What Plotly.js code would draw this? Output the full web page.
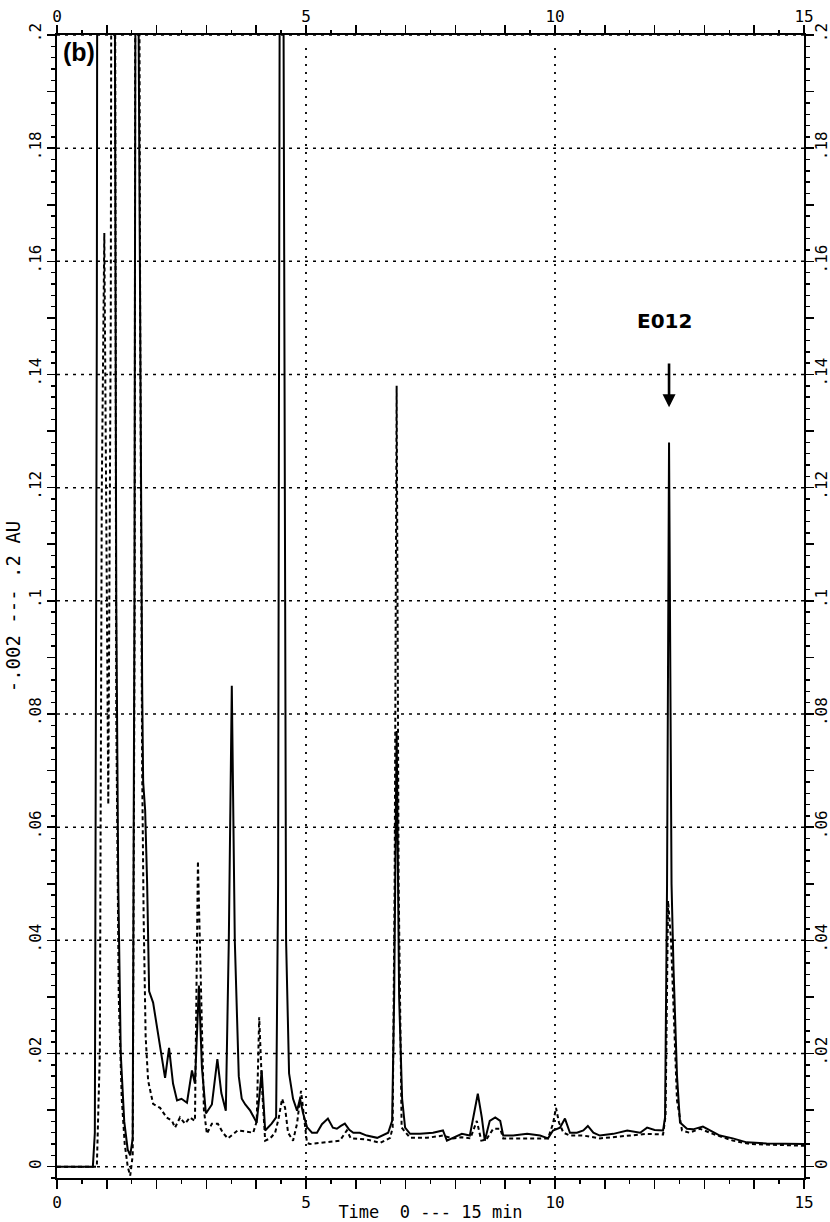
<!DOCTYPE html>
<html>
<head>
<meta charset="utf-8">
<script src="https://cdn.plot.ly/plotly-3.0.1.min.js"></script>
<style>html,body{margin:0;padding:0;background:#fff;}#chart{width:830px;height:1222px;}</style>
</head>
<body>
<div id="chart"></div>
<script>
// ---- data (time in min, absorbance in AU) ----
const solidTime = [0, 0.72, 0.76, 0.8, 0.83, 0.95, 1.1, 1.15, 1.19, 1.23, 1.28, 1.35, 1.42, 1.47, 1.52, 1.555, 1.58, 1.61, 1.64, 1.68, 1.71, 1.73, 1.77, 1.81, 1.85, 1.93, 2.03, 2.17, 2.25, 2.33, 2.41, 2.5, 2.61, 2.71, 2.77, 2.85, 2.91, 2.99, 3.11, 3.22, 3.3, 3.39, 3.45, 3.51, 3.57, 3.65, 3.71, 3.78, 3.88, 4.01, 4.07, 4.11, 4.18, 4.31, 4.4, 4.44, 4.47, 4.51, 4.55, 4.6, 4.66, 4.74, 4.82, 4.88, 4.94, 5.02, 5.12, 5.22, 5.32, 5.44, 5.54, 5.62, 5.7, 5.78, 5.87, 5.95, 6.08, 6.22, 6.43, 6.65, 6.73, 6.77, 6.82, 6.87, 6.93, 6.99, 7.09, 7.29, 7.55, 7.75, 7.83, 7.95, 8.13, 8.29, 8.39, 8.45, 8.53, 8.59, 8.69, 8.8, 8.9, 8.96, 9.16, 9.44, 9.7, 9.86, 9.96, 10.1, 10.2, 10.3, 10.44, 10.57, 10.66, 10.77, 10.9, 11.17, 11.45, 11.71, 11.85, 12.0, 12.17, 12.21, 12.25, 12.29, 12.34, 12.38, 12.45, 12.51, 12.65, 12.77, 12.97, 13.11, 13.31, 13.57, 13.85, 14.25, 15];
const solidAU = [0, 0, 0.006, 0.15, 0.4, 0.45, 0.45, 0.25, 0.1, 0.05, 0.02, 0.008, 0.003, 0.002, 0.005, 0.1, 0.4, 0.4, 0.2, 0.12, 0.085, 0.068, 0.063, 0.05, 0.031, 0.029, 0.0235, 0.0157, 0.021, 0.0147, 0.0117, 0.012, 0.0113, 0.017, 0.0147, 0.032, 0.0175, 0.0094, 0.011, 0.019, 0.013, 0.0099, 0.04, 0.085, 0.04, 0.016, 0.012, 0.011, 0.0099, 0.0078, 0.013, 0.017, 0.0064, 0.0076, 0.0087, 0.05, 0.2, 0.5, 0.2, 0.04, 0.0165, 0.012, 0.0099, 0.012, 0.0095, 0.007, 0.006, 0.006, 0.0075, 0.0085, 0.0069, 0.0067, 0.0072, 0.0076, 0.0065, 0.006, 0.006, 0.0055, 0.0051, 0.006, 0.0081, 0.03, 0.077, 0.03, 0.012, 0.0069, 0.0058, 0.0058, 0.006, 0.0064, 0.0046, 0.0051, 0.0058, 0.0055, 0.0103, 0.0129, 0.0087, 0.0046, 0.0081, 0.0087, 0.0081, 0.0055, 0.0055, 0.0058, 0.0055, 0.005, 0.0064, 0.0069, 0.0085, 0.006, 0.006, 0.0064, 0.0072, 0.006, 0.0055, 0.0058, 0.0064, 0.006, 0.0069, 0.0065, 0.0064, 0.0087, 0.05, 0.128, 0.05, 0.035, 0.016, 0.0078, 0.0067, 0.0066, 0.0071, 0.0064, 0.0055, 0.005, 0.0043, 0.0041, 0.004];

const dashedTime = [0, 0.8, 0.86, 0.9, 0.95, 0.99, 1.03, 1.08, 1.12, 1.16, 1.19, 1.24, 1.3, 1.36, 1.42, 1.47, 1.52, 1.56, 1.59, 1.63, 1.67, 1.71, 1.74, 1.78, 1.83, 1.93, 2.07, 2.2, 2.31, 2.37, 2.47, 2.57, 2.67, 2.77, 2.83, 2.9, 2.95, 3.01, 3.11, 3.23, 3.33, 3.43, 3.63, 3.8, 3.94, 4.01, 4.06, 4.12, 4.18, 4.28, 4.38, 4.45, 4.52, 4.58, 4.64, 4.74, 4.82, 4.9, 4.96, 5.02, 5.08, 5.28, 5.68, 5.82, 5.9, 6.22, 6.49, 6.69, 6.74, 6.78, 6.82, 6.86, 6.92, 7.09, 7.43, 7.75, 7.95, 8.13, 8.3, 8.43, 8.52, 8.62, 8.76, 8.9, 8.96, 9.3, 9.56, 9.86, 9.96, 10.02, 10.08, 10.17, 10.3, 10.57, 10.9, 11.45, 11.85, 12.17, 12.22, 12.27, 12.33, 12.45, 12.55, 12.7, 12.91, 13.17, 13.57, 13.92, 15];
const dashedAU = [0, 0, 0.02, 0.12, 0.165, 0.12, 0.064, 0.15, 0.4, 0.25, 0.08, 0.03, 0.012, 0.004, 0.0, -0.0016, 0.002, 0.1, 0.4, 0.3, 0.15, 0.07, 0.044, 0.023, 0.0152, 0.0111, 0.0104, 0.0087, 0.0081, 0.0069, 0.0087, 0.0076, 0.0087, 0.0081, 0.054, 0.026, 0.01, 0.0058, 0.0076, 0.0076, 0.006, 0.005, 0.0064, 0.0062, 0.006, 0.008, 0.0264, 0.0134, 0.0046, 0.005, 0.006, 0.0085, 0.012, 0.0104, 0.006, 0.0046, 0.0076, 0.0134, 0.0085, 0.0042, 0.004, 0.0042, 0.0046, 0.0064, 0.005, 0.0048, 0.0042, 0.0051, 0.0069, 0.05, 0.138, 0.05, 0.0069, 0.0051, 0.0051, 0.0055, 0.005, 0.0052, 0.005, 0.0081, 0.0046, 0.0048, 0.0067, 0.0067, 0.005, 0.005, 0.005, 0.005, 0.0076, 0.0104, 0.0078, 0.006, 0.0055, 0.0055, 0.005, 0.0055, 0.0058, 0.0057, 0.009, 0.047, 0.04, 0.0117, 0.0064, 0.006, 0.0067, 0.0058, 0.0046, 0.004, 0.0037];

const xTickValues = [0, 5, 10, 15];
const xTickLabels = ['0', '5', '10', '15'];
const yTickValues = [0, 0.02, 0.04, 0.06, 0.08, 0.1, 0.12, 0.14, 0.16, 0.18, 0.2];
const yTickLabels = ['0', '.02', '.04', '.06', '.08', '.1', '.12', '.14', '.16', '.18', '.2'];
const xGridValues = [5, 10];

const yTitle = '-.002 --- .2 AU';
const xTitle = 'Time\u00a0\u00a00 --- 15 min';
const panelLabel = '(b)';
const peakLabel = 'E012';

// ---- build tick arrays (every minute / every 0.01 AU, labels only where given) ----
const FONT = 'DejaVu Sans Mono';
const xMajorVals = [], xMajorText = [];
for (let i = 0; i <= 15; i++) {
  xMajorVals.push(i);
  const k = xTickValues.indexOf(i);
  xMajorText.push(k >= 0 ? xTickLabels[k] : '');
}
const yMajorVals = [], yMajorText = [];
for (let k = 0; k <= 20; k++) {
  const v = k / 100;
  yMajorVals.push(v);
  const j = yTickValues.findIndex(t => Math.abs(t - v) < 1e-9);
  yMajorText.push(j >= 0 ? yTickLabels[j] : '');
}

const baseX = {
  range: [0, 15], tickmode: 'array', tickvals: xMajorVals, ticktext: xMajorText,
  ticks: 'outside', ticklen: 9, tickwidth: 1.6, tickcolor: '#000',
  minor: {dtick: 0.5, tick0: 0, ticks: 'outside', ticklen: 4, tickwidth: 1.4, tickcolor: '#000', showgrid: false},
  showline: true, linecolor: '#000', linewidth: 2, showgrid: false, zeroline: false,
  tickfont: {family: FONT, size: 16, color: '#000'}, automargin: false, fixedrange: true
};
const baseY = {
  range: [-0.002, 0.2], tickmode: 'array', tickvals: yMajorVals, ticktext: yMajorText,
  ticks: 'outside', ticklen: 8, tickwidth: 1.6, tickcolor: '#000', tickangle: -90,
  minor: {dtick: 0.002, tick0: 0, ticks: 'outside', ticklen: 4, tickwidth: 1.4, tickcolor: '#000', showgrid: false},
  showline: true, linecolor: '#000', linewidth: 2, showgrid: false, zeroline: false,
  tickfont: {family: FONT, size: 16, color: '#000'}, automargin: false, fixedrange: true
};

const traces = [
  {type: 'scatter', mode: 'lines', x: solidTime, y: solidAU, name: 'solid',
   line: {color: '#000', width: 2}, showlegend: false},
  {type: 'scatter', mode: 'lines', x: dashedTime, y: dashedAU, name: 'dashed',
   line: {color: '#000', width: 2, dash: '4px,3px'}, showlegend: false},
  {type: 'scatter', mode: 'lines', x: [], y: [], xaxis: 'x2', yaxis: 'y2', showlegend: false, hoverinfo: 'skip'}
];

const shapes = [];
yTickValues.forEach(v => shapes.push({type: 'line', layer: 'below', xref: 'paper', x0: 0, x1: 1, yref: 'y', y0: v, y1: v,
  line: {color: '#000', width: 1.5, dash: '3px,5px'}}));
xGridValues.forEach(v => shapes.push({type: 'line', layer: 'below', yref: 'paper', y0: 0, y1: 0.99, xref: 'x', x0: v, x1: v,
  line: {color: '#000', width: 1.8, dash: '2px,6px'}}));

const layout = {
  width: 830, height: 1222,
  margin: {l: 57, r: 26, t: 35, b: 44, pad: 0},
  paper_bgcolor: '#fff', plot_bgcolor: '#fff',
  showlegend: false,
  xaxis: Object.assign({}, baseX, {side: 'bottom', anchor: 'y',
    title: {text: xTitle, font: {family: FONT, size: 17, color: '#000'}, standoff: 0}}),
  xaxis2: Object.assign({}, baseX, {side: 'top', overlaying: 'x', anchor: 'y', ticklen: 8, ticklabelstandoff: -3,
    minor: Object.assign({}, baseX.minor, {ticklen: 3})}),
  yaxis: Object.assign({}, baseY, {side: 'left', anchor: 'x',
    title: {text: yTitle, font: {family: FONT, size: 19, color: '#000'}, standoff: 0}}),
  yaxis2: Object.assign({}, baseY, {side: 'right', overlaying: 'y', anchor: 'x', ticklabelstandoff: -6}),
  shapes: shapes,
  annotations: [
    {xref: 'paper', yref: 'paper', x: 0.005, y: 0.999, xanchor: 'left', yanchor: 'top', showarrow: false,
     text: '<b>' + panelLabel + '</b>', font: {family: 'Liberation Sans', size: 25, color: '#000'}},
    {xref: 'x', yref: 'y', x: 12.2, y: 0.1494, xanchor: 'center', yanchor: 'middle', showarrow: false,
     text: '<b>' + peakLabel + '</b>', font: {family: 'DejaVu Sans', size: 20, color: '#000'}},
    {xref: 'x', yref: 'y', x: 12.29, y: 0.1342, axref: 'x', ayref: 'y', ax: 12.29, ay: 0.1422, text: '',
     showarrow: true, arrowhead: 2, arrowsize: 1, arrowwidth: 2.6, arrowcolor: '#000'}
  ]
};

Plotly.newPlot('chart', traces, layout, {staticPlot: true, displayModeBar: false});
</script>
</body>
</html>
